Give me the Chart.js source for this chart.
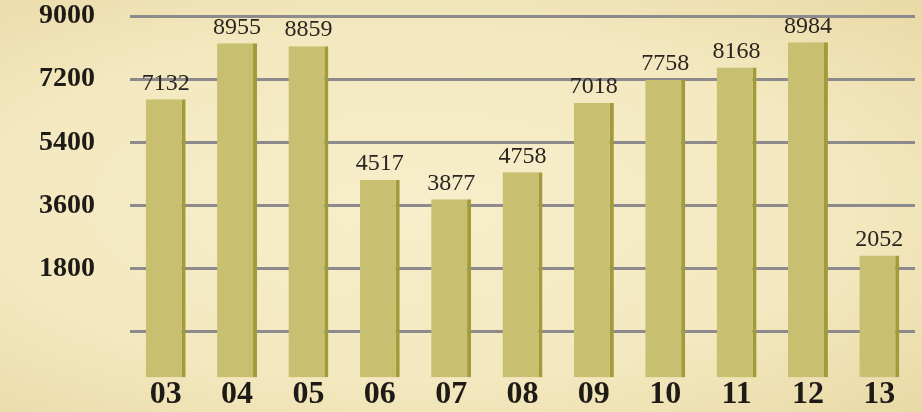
<!DOCTYPE html>
<html>
<head>
<meta charset="utf-8">
<script src="https://cdn.jsdelivr.net/npm/chart.js@4"></script>
<style>
  html, body { margin: 0; padding: 0; }
  body {
    width: 922px; height: 412px; overflow: hidden;
    background:
      radial-gradient(ellipse at 45% 50%, #f7eecb 0%, #f3e8bf 60%, #e9d9a6 100%);
  }
  #wrap { width: 922px; height: 412px; position: relative; }
</style>
</head>
<body>
<div id="wrap"><canvas id="grafico"></canvas></div>
<script>
// datos
const years = ['03', '04', '05', '06', '07', '08', '09', '10', '11', '12', '13'];
const visits = [7132, 8955, 8859, 4517, 3877, 4758, 7018, 7758, 8168, 8984, 2052];
const gridTicks = [0, 1800, 3600, 5400, 7200, 9000];

// numeros encima de cada barra
const valueLabels = {
  id: 'valueLabels',
  afterDatasetsDraw(chart) {
    const ctx = chart.ctx;
    const meta = chart.getDatasetMeta(0);
    ctx.save();
    ctx.font = '24px "Liberation Serif", "Times New Roman", serif';
    ctx.fillStyle = '#2a2520';
    ctx.textAlign = 'center';
    ctx.textBaseline = 'bottom';
    meta.data.forEach((bar, i) => {
      ctx.fillText(visits[i], bar.x, bar.y - 4);
    });
    ctx.restore();
  }
};

const ctx = document.getElementById('grafico');

new Chart(ctx, {
  type: 'bar',
  data: {
    labels: years,
    datasets: [{
      data: visits,
      yAxisID: 'yBar',
      base: -1920,
      backgroundColor: '#c8c070',
      borderColor: '#a39b3a',
      borderWidth: { top: 0, left: 0, bottom: 0, right: 4 },
      borderSkipped: false,
      barPercentage: 0.56,
      categoryPercentage: 1
    }]
  },
  options: {
    responsive: true,
    maintainAspectRatio: false,
    animation: false,
    layout: { padding: { top: 16, right: 7, left: 0, bottom: 0 } },
    plugins: {
      legend: { display: false },
      tooltip: { enabled: false }
    },
    scales: {
      x: {
        grid: { display: false, drawTicks: false },
        border: { display: false },
        ticks: {
          padding: -2,
          color: '#1e1a16',
          font: { family: '"Liberation Serif", "Times New Roman", serif', size: 32, weight: 'bold' }
        }
      },
      y: {
        min: -1300,
        max: 9000,
        afterBuildTicks(scale) {
          scale.ticks = gridTicks.map(v => ({ value: v }));
        },
        afterFit(scale) {
          scale.width = 130;
          // la separacion de las etiquetas no debe empujar el area arriba/abajo
          scale.paddingTop = 0;
          scale.paddingBottom = 0;
        },
        grid: { color: '#8d8a8e', lineWidth: 3, drawTicks: false },
        border: { display: false },
        ticks: {
          padding: 35,
          color: '#1e1a16',
          font: { family: '"Liberation Serif", "Times New Roman", serif', size: 28, weight: 'bold' },
          callback: v => (v === 0 ? '' : v)
        }
      },
      yBar: {
        display: false,
        min: -1920,
        max: 9840
      }
    }
  },
  plugins: [valueLabels]
});
</script>
</body>
</html>
